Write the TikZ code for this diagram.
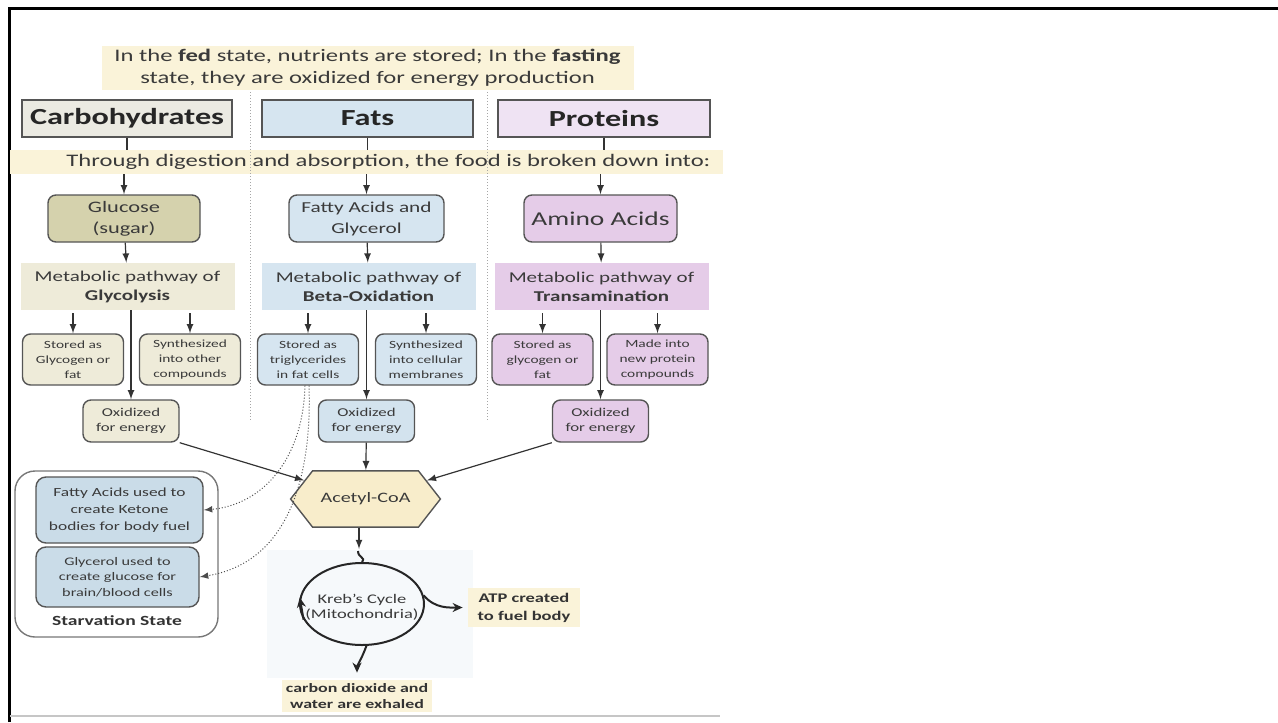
\documentclass[tikz,border=0pt]{standalone}
\usepackage{fontspec}
\setmainfont{Carlito}[FakeStretch=1.4]
\usetikzlibrary{shapes.geometric,shapes.symbols,arrows.meta}

\definecolor{boxline}{HTML}{555555}
\definecolor{linec}{HTML}{333333}
\definecolor{txt}{HTML}{3A3A3A}
\definecolor{carbA}{HTML}{EBEAE2}
\definecolor{carbB}{HTML}{D5D2AD}
\definecolor{carbC}{HTML}{EEEBD9}
\definecolor{fatA}{HTML}{D6E5F0}
\definecolor{fatB}{HTML}{D3E3EE}
\definecolor{fatC}{HTML}{CADCE8}
\definecolor{protA}{HTML}{EFE3F3}
\definecolor{protB}{HTML}{E5CCE8}
\definecolor{yelA}{HTML}{FAF3D9}
\definecolor{yelB}{HTML}{F8EDCB}
\definecolor{ghost}{HTML}{F6F9FB}

\tikzset{
  flow/.style={draw=linec, line width=0.6pt},
  sep/.style={draw=gray!70, line width=0.5pt, densely dotted},
  dotc/.style={draw=gray!60!black, line width=0.5pt, densely dotted},
  cyc/.style={draw=black!85, line width=1pt},
  cycarrow/.style={cyc, -{Stealth[length=5pt,width=4.5pt]}},
  banner/.style={fill=yelA, align=center, text=txt, inner sep=0pt},
  hdr/.style={draw=boxline, line width=0.7pt, minimum height=18.5pt, text=black!85,
    font=\fontsize{11.5}{13}\selectfont\bfseries},
  food/.style={draw=boxline, line width=0.7pt, rounded corners=4pt, minimum height=23.5pt,
    align=center, text=txt, inner sep=0pt},
  pathbox/.style={minimum width=107pt, minimum height=23.5pt, align=center, text=txt,
    inner sep=0pt, font=\fontsize{7.5}{9.5}\selectfont},
  small/.style={draw=boxline, line width=0.7pt, rounded corners=4pt, minimum width=50.5pt,
    minimum height=25.5pt, align=center, text=txt, inner sep=0pt,
    font=\fontsize{5.5}{7.5}\selectfont},
  oxbox/.style={small, minimum width=48pt, minimum height=21pt, font=\fontsize{6}{7.5}\selectfont},
  starvbox/.style={draw=boxline, line width=0.7pt, rounded corners=5pt, fill=fatC,
    align=center, text=txt, inner sep=0pt, font=\fontsize{6.2}{8.4}\selectfont},
  outcome/.style={fill=yelA, align=center, text=black!80, inner sep=0pt,
    font=\fontsize{6.6}{9}\selectfont\bfseries}
}

\begin{document}
\begin{tikzpicture}[x=0.5pt,y=-0.5pt,>=latex]
\useasboundingbox (0,0) rectangle (1278,722);

% frame and base line
\draw[line width=1.5pt] (9,722) -- (9,8.5) -- (1278,8.5);
\draw[line width=1pt, draw=gray!45] (10,716) -- (720,716);

% pale panel behind the cycle
\fill[ghost] (267,550) rectangle (473,678);

% banners
\node[banner, minimum width=266pt, minimum height=22pt, font=\fontsize{8.8}{11.2}\selectfont] (fed) at (367.5,68)
  {In the \textbf{fed} state, nutrients are stored; In the \textbf{fasting}\\state, they are oxidized for energy production};
\node[banner, minimum width=356.5pt, minimum height=12pt, font=\fontsize{8.8}{9}\selectfont] (digest) at (366.5,162)
  {\hspace*{22pt}Through digestion and absorption, the food is broken down into:};

% column separators
\draw[sep] (250,92) -- (250,420);
\draw[sep] (487,92) -- (487,420);

% Carbohydrates column
\node[hdr, fill=carbA, minimum width=105pt] (carb) at (127,118.5) {Carbohydrates};
\node[food, fill=carbB, minimum width=76pt, font=\fontsize{8}{10.5}\selectfont] (glucose) at (124,218.5) {Glucose\\(sugar)};
\node[pathbox, fill=carbC] (glyco) at (127.5,286.5) {Metabolic pathway of\\\textbf{Glycolysis}};
\node[small, fill=carbC] (storeC) at (73,359.5) {Stored as\\Glycogen or\\fat};
\node[small, fill=carbC] (synthC) at (190,359.5) {Synthesized\\into other\\compounds};
\node[oxbox, fill=carbC] (oxC) at (131,421) {Oxidized\\for energy};

% Fats column
\node[hdr, fill=fatA, minimum width=105.5pt] (fats) at (367.5,118.5) {Fats};
\node[food, fill=fatA, minimum width=77.5pt, font=\fontsize{7.6}{10.5}\selectfont] (fatty) at (366.5,218.5) {Fatty Acids and\\Glycerol};
\node[pathbox, fill=fatA] (beta) at (368.5,286.5) {Metabolic pathway of\\\textbf{Beta-Oxidation}};
\node[small, fill=fatA] (storeF) at (308,359.5) {Stored as\\triglycerides\\in fat cells};
\node[small, fill=fatA] (synthF) at (426,359.5) {Synthesized\\into cellular\\membranes};
\node[oxbox, fill=fatB] (oxF) at (366.5,421) {Oxidized\\for energy};

% Proteins column
\node[hdr, fill=protA, minimum width=106pt] (prot) at (604,118.5) {Proteins};
\node[food, fill=protB, minimum width=76.5pt, font=\fontsize{9.8}{11}\selectfont] (amino) at (600.5,218.5) {Amino Acids};
\node[pathbox, fill=protB] (trans) at (601.5,286.5) {Metabolic pathway of\\\textbf{Transamination}};
\node[small, fill=protB] (storeP) at (542.5,359.5) {Stored as\\glycogen or\\fat};
\node[small, fill=protB] (madeP) at (657.5,359.5) {Made into\\new protein\\compounds};
\node[oxbox, fill=protB] (oxP) at (600.5,421) {Oxidized\\for energy};

% down the columns
\foreach \h/\f/\p/\ox in {carb/glucose/glyco/oxC, fats/fatty/beta/oxF, prot/amino/trans/oxP} {
  \draw[flow] (\h) -- (\h |- digest.north);
  \draw[flow,->] (\f |- digest.south) -- (\f);
  \draw[flow,->] (\f) -- (\p);
  \draw[flow,->] (\ox |- \p.south) -- (\ox);
}
\foreach \p/\s in {glyco/storeC, glyco/synthC, beta/storeF, beta/synthF, trans/storeP, trans/madeP}
  \draw[flow,->,shorten <=1.5pt] (\s |- \p.south) -- (\s);

% Acetyl-CoA
\node[signal, signal to=west and east, signal pointer angle=104, draw=boxline, line width=0.7pt,
  fill=yelB, minimum width=74.5pt, minimum height=28pt, inner xsep=4pt, inner ysep=11pt,
  text=txt, font=\fontsize{7.2}{8}\selectfont] (acetyl) at (365.5,499) {Acetyl-CoA};
\draw[flow,->] (oxC.south east) -- (acetyl);
\draw[flow,->] (oxF) -- (acetyl);
\draw[flow,->] (oxP.south west) -- (acetyl);

% Starvation state
\node[draw=boxline!80, line width=0.7pt, rounded corners=10pt, minimum width=101.5pt,
  minimum height=83pt] (starv) at (116.5,554) {};
\node[starvbox, minimum width=83.5pt, minimum height=33pt] (ketone) at (119.5,510)
  {Fatty Acids used to\\create Ketone\\bodies for body fuel};
\node[starvbox, minimum width=81.5pt, minimum height=30pt, font=\fontsize{5.8}{7.8}\selectfont] (glycerol) at (117.5,577)
  {Glycerol used to\\create glucose for\\brain/blood cells};
\node[text=black!80, font=\fontsize{7}{8}\selectfont\bfseries] (starvlbl) at (117,621) {Starvation State};
\draw[dotc,->] ([xshift=-1.5pt]storeF.south) .. controls (303,460) and (262,505) .. (ketone.east);
\draw[dotc,->] ([xshift=0.5pt]storeF.south) .. controls (312,470) and (292,562) .. (glycerol.east);

% Kreb's cycle
\node[ellipse, cyc, minimum width=62pt, minimum height=41pt, inner sep=0pt] (krebs) at (362,604) {};
\node[align=center, text=txt, inner sep=0pt, font=\fontsize{6.6}{7.6}\selectfont] (krebstxt) at (362,607)
  {Kreb's Cycle\\(Mitochondria)};
\coordinate (kin) at (359,549);
\draw[flow,->] (acetyl.south -| kin) -- (kin);
\draw[cyc] (kin) ++(-1,2) .. controls (358,558) and (366,557) .. (krebs.north);
\draw[cycarrow] (krebs.195) -- (krebs.174);
\node[outcome, minimum width=56pt, minimum height=19.5pt] (atp) at (524,607.5) {ATP created\\to fuel body};
\node[outcome, minimum width=75pt, minimum height=16pt, font=\fontsize{6.4}{8.4}\selectfont\bfseries] (co2) at (357,696)
  {carbon dioxide and\\water are exhaled};
\draw[cycarrow,shorten >=2.5pt] (krebs.8) to[out=-50,in=180] (atp.west);
\draw[cycarrow,shorten >=3.5pt] (krebs.-84) to[out=-110,in=90] (co2.north);

\end{tikzpicture}
\end{document}
